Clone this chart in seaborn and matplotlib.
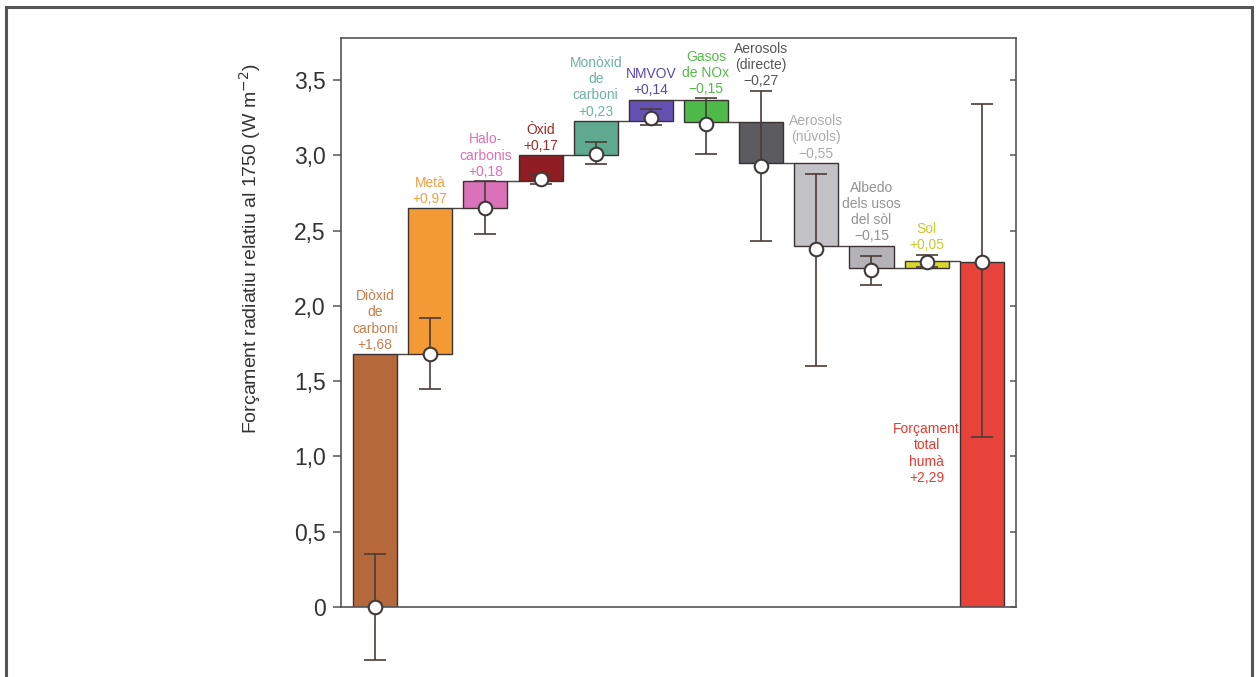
import numpy as np
import pandas as pd
import matplotlib
matplotlib.use("Agg")
import matplotlib.pyplot as plt
from matplotlib.patches import Rectangle
import seaborn as sns

# Forcing agents, in drawing order (the last one is the total)
agents = ["Diòxid\nde\ncarboni", "Metà", "Halo-\ncarbonis", "Òxid",
          "Monòxid\nde\ncarboni", "NMVOV", "Gasos\nde NOx", "Aerosols\n(directe)",
          "Aerosols\n(núvols)", "Albedo\ndels usos\ndel sòl", "Sol",
          "Forçament\ntotal\nhumà"]

# Contribution of each agent (W m-2) and the total human forcing
forcing = [1.68, 0.97, 0.18, 0.17, 0.23, 0.14, -0.15, -0.27, -0.55, -0.15, 0.05]
total_forcing = 2.29

# Central estimates (circles) and uncertainty ranges (whiskers)
central = [0.00, 1.68, 2.65, 2.84, 3.01, 3.25, 3.21, 2.93, 2.38, 2.24, 2.29, 2.29]
err_low = [-0.35, 1.45, 2.48, 2.81, 2.94, 3.20, 3.01, 2.43, 1.60, 2.14, 2.26, 1.13]
err_high = [0.35, 1.92, 2.83, 2.875, 3.09, 3.31, 3.38, 3.43, 2.875, 2.33, 2.34, 3.34]

bar_colors = ["#b5683a", "#f39a35", "#d972b8", "#8f1d22", "#5ea98f", "#6452b3",
              "#4dba4a", "#5b5b60", "#c3c3c7", "#b3b3b7", "#d6d62c", "#e8433b"]
text_colors = ["#c97c4c", "#f0a040", "#e06fb2", "#a12a2a", "#6db3a3", "#5a48b0",
               "#52ba48", "#555555", "#aaaaaa", "#929292", "#c9c92e", "#e83a30"]

yticks = [0, 0.5, 1.0, 1.5, 2.0, 2.5, 3.0, 3.5]
ytick_labels = ["0", "0,5", "1,0", "1,5", "2,0", "2,5", "3,0", "3,5"]


def fmt(v):
    return f"{v:+.2f}".replace(".", ",").replace("-", "\u2212")


# Waterfall geometry: each step starts where the previous one ended
steps = np.array(forcing)
ends = np.cumsum(steps)
starts = np.concatenate([[0.0], ends[:-1]])
bottoms = list(starts) + [0.0]
heights = list(steps) + [total_forcing]
positions = np.arange(len(agents))

sns.set_theme(style="ticks")
plt.rcParams["font.family"] = ["Liberation Sans", "DejaVu Sans"]

fig = plt.figure(figsize=(12.6, 6.77), dpi=100)
ax = fig.add_axes([0.2706, 0.1034, 0.5357, 0.8405])

df = pd.DataFrame({"pos": positions, "height": heights})
sns.barplot(data=df, x="pos", y="height", bottom=bottoms, width=0.8,
            color="#cccccc", edgecolor="#3a3232", linewidth=1.0,
            saturation=1, errorbar=None, ax=ax, zorder=2)
for patch, c in zip(ax.patches, bar_colors):
    patch.set_facecolor(c)

# Step connectors between consecutive bars
for i, e in enumerate(ends):
    ax.plot([i + 0.4, i + 0.6], [e, e], color="#4a4444", lw=1.0, zorder=1)

# Uncertainty whiskers and central estimates
c = np.array(central)
yerr = [c - np.array(err_low), np.array(err_high) - c]
ax.errorbar(positions, c, yerr=yerr, fmt="none", ecolor="#4a3c38",
            elinewidth=1.2, capsize=8, capthick=1.2, zorder=4, clip_on=False)
sns.scatterplot(x=positions, y=c, s=95, color="white", edgecolor="#3e3a38",
                linewidth=1.5, zorder=5, clip_on=False, ax=ax)

# Labels above each step
for i in range(len(forcing)):
    top = max(starts[i], ends[i], err_high[i])
    ax.text(i, top + 0.015, f"{agents[i]}\n{fmt(forcing[i])}",
            ha="center", va="bottom", fontsize=10, color=text_colors[i],
            linespacing=1.2, zorder=6)
ax.text(10, 1.02, f"{agents[-1]}\n{fmt(total_forcing)}", ha="center",
        va="center", fontsize=10, color=text_colors[-1], linespacing=1.2)

ax.set_xlim(-0.62, len(agents) - 1 + 0.62)
ax.set_ylim(0, 3.78)
ax.set_yticks(yticks)
ax.set_yticklabels(ytick_labels, fontsize=16.5, color="#333333")
ax.set_xticks([])
ax.set_xlabel("")
ax.set_ylabel("Forçament radiatiu relatiu al 1750 (W m$^{-2}$)", fontsize=14,
              color="#333333")
ax.yaxis.set_label_coords(-0.115, 0.63)
ax.tick_params(axis="y", direction="out", length=6, width=1.1, color="#555555",
               pad=5)
for s in ax.spines.values():
    s.set_visible(True)
    s.set_color("#555555")
    s.set_linewidth(1.2)

# Inward ticks along the right edge
ax2 = ax.twinx()
ax2.set_ylim(ax.get_ylim())
ax2.set_yticks(yticks)
ax2.tick_params(axis="y", direction="in", length=4, width=1.1, color="#555555",
                labelright=False)
for s in ax2.spines.values():
    s.set_visible(False)

# Frame around the figure
fig.patches.append(Rectangle((6 / 1260, -0.02), 1246 / 1260, 1.02 - 7 / 677,
                             transform=fig.transFigure, fill=False,
                             edgecolor="#555555", linewidth=2.2))

fig.savefig("out.png", dpi=100)
